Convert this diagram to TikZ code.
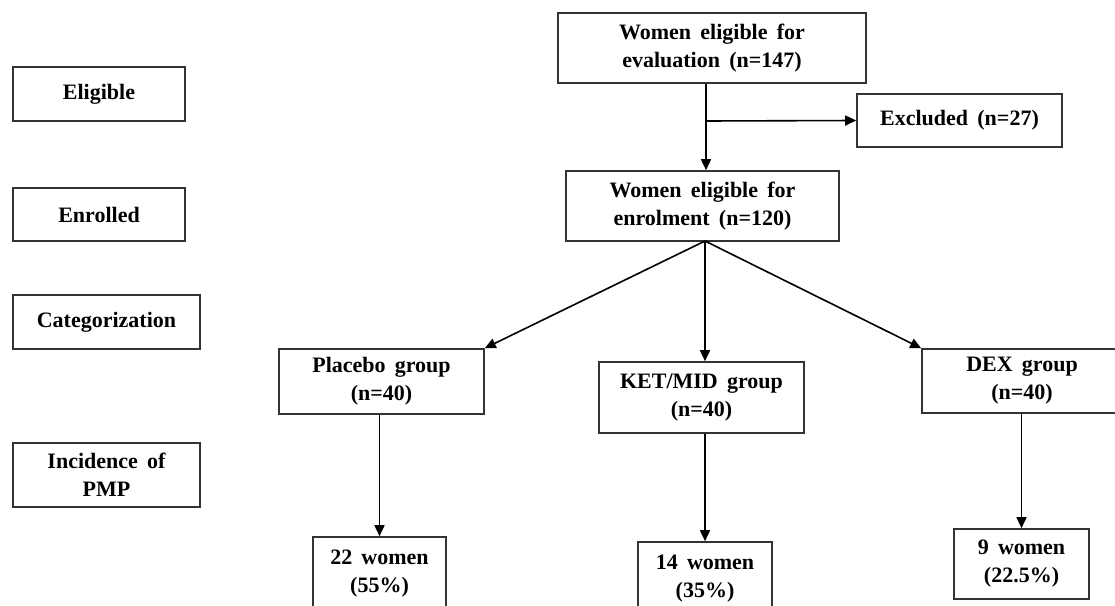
\documentclass[tikz,border=0pt]{standalone}
\usepackage{fontspec}
\setmainfont{Liberation Serif}
\usetikzlibrary{arrows.meta}
\newcommand{\myboxfont}{\fontsize{22}{28}\selectfont\bfseries\spaceskip=0.42em plus 0.1em\relax}
\begin{document}
\begin{tikzpicture}[x=1pt,y=-1pt,
  box/.style={draw=black!80, line width=1.6pt, inner sep=0pt, align=center,
    font=\myboxfont},
  arr/.style={draw=black, line width=1.6pt, -{Triangle[length=11pt,width=10pt]}}]
\useasboundingbox (0,0) rectangle (1115,605);
\clip (0,0) rectangle (1115,605);
% left column
\node[box, minimum width=172pt, minimum height=54pt] (elig) at (99,94) {Eligible};
\node[box, minimum width=172pt, minimum height=53pt] (enr) at (99,214.5) {Enrolled};
\node[box, minimum width=187pt, minimum height=54pt] (cat) at (106.5,322) {Categorization};
\node[box, minimum width=187pt, minimum height=64pt] (inc) at (106.5,475) {Incidence of\\PMP};
% flow
\node[box, minimum width=308pt, minimum height=70pt] (top) at (712,48) {Women eligible for\\evaluation (n=147)};
\node[box, minimum width=205pt, minimum height=53pt] (excl) at (959.5,120.5) {Excluded (n=27)};
\node[box, minimum width=273pt, minimum height=70pt] (enrol) at (702.5,206) {Women eligible for\\enrolment (n=120)};
\node[box, minimum width=205pt, minimum height=65pt] (plac) at (381.5,381.5) {Placebo group\\(n=40)};
\node[box, minimum width=205pt, minimum height=71pt] (ket) at (701.5,397.5) {KET/MID group\\(n=40)};
\node[box, minimum width=200pt, minimum height=64pt] (dex) at (1022,381) {DEX group\\(n=40)};
\node[box, minimum width=133pt, minimum height=73pt] (w22) at (379.5,573.5) {22 women\\(55\%)};
\node[box, minimum width=134pt, minimum height=73pt] (w14) at (705,578.5) {14 women\\(35\%)};
\node[box, minimum width=135pt, minimum height=70pt] (w9) at (1021.5,564) {9 women\\(22.5\%)};
% connectors
\coordinate (v) at (706,0);
\coordinate (br) at (706,121);
\coordinate (apex) at (705,241);
\draw[arr] (top.south -| v) -- (enrol.north -| v);
\draw[arr] (br) -- (excl.west);
\draw[arr] (apex) -- (plac.north east);
\draw[arr] (apex) -- (ket.north -| apex);
\draw[arr] (apex) -- (dex.north west);
\draw[arr] (plac.south -| w22.north) -- (w22.north);
\draw[arr] (ket.south -| w14.north) -- (w14.north);
\draw[arr] (dex.south -| w9.north) -- (w9.north);
\end{tikzpicture}
\end{document}
